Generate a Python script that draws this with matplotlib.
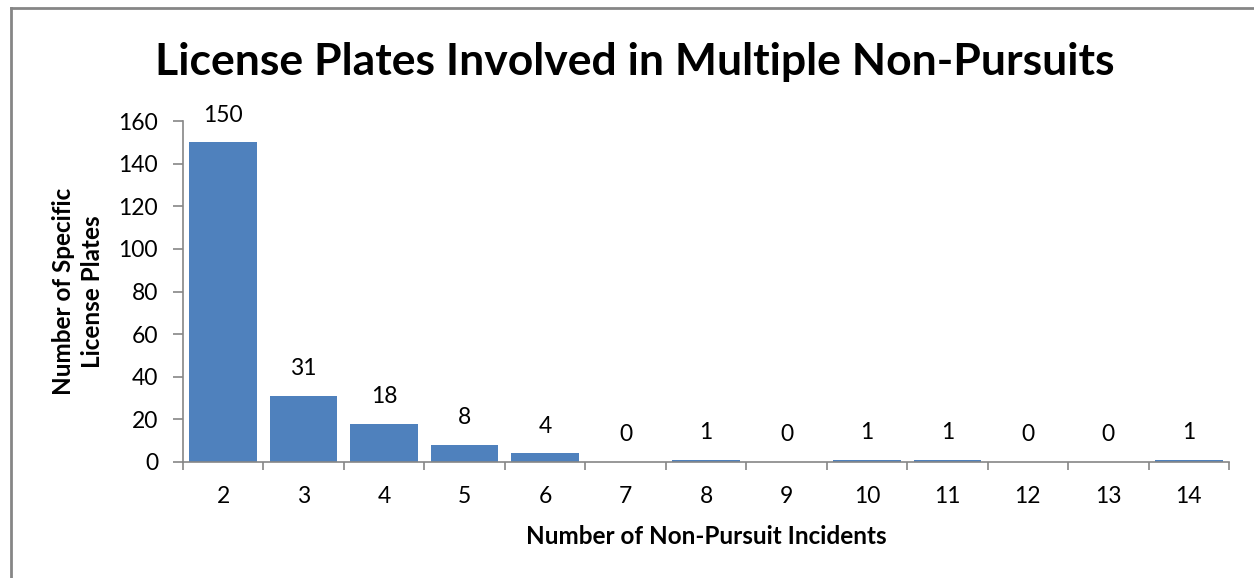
import matplotlib
matplotlib.use('Agg')
import matplotlib.pyplot as plt
from matplotlib.lines import Line2D

plt.rcParams['font.family'] = ['Lato', 'DejaVu Sans']

incidents = ['2', '3', '4', '5', '6', '7', '8', '9', '10', '11', '12', '13', '14']
plates = [150, 31, 18, 8, 4, 0, 1, 0, 1, 1, 0, 0, 1]

BLUE = '#4F81BD'
GREY = '#868686'

fig = plt.figure(figsize=(12.54, 5.78), dpi=100)
ax = fig.add_axes([183 / 1254, 1 - 462 / 578, (1229 - 183) / 1254, (462 - 121) / 578])

x = list(range(len(incidents)))
bars = ax.bar(x, plates, width=0.84, color=BLUE, zorder=2)

# value labels sit a fixed distance above each bar
for xi, v in zip(x, plates):
    ax.annotate(str(v), (xi, v), xytext=(0, 19.5), textcoords='offset points',
                ha='center', va='center', fontsize=16.5)

ax.set_xlim(-0.5, len(incidents) - 0.5)
ax.set_ylim(0, 160)
ax.set_yticks(range(0, 161, 20))
# tick marks between categories, labels centred under bars
ax.set_xticks([i - 0.5 for i in range(len(incidents) + 1)], minor=False)
ax.set_xticklabels([])
ax.set_xticks(x, minor=True)
ax.set_xticklabels(incidents, minor=True)
ax.tick_params(axis='x', which='major', length=6, width=1.2, color=GREY, direction='out')
ax.tick_params(axis='x', which='minor', length=0, pad=17, labelsize=16.5)
ax.tick_params(axis='y', length=7, width=1.2, color=GREY, direction='out', labelsize=16.5, pad=11)

for side in ['top', 'right']:
    ax.spines[side].set_visible(False)
for side in ['left', 'bottom']:
    ax.spines[side].set_color(GREY)
    ax.spines[side].set_linewidth(1.2)

ax.set_xlabel('Number of Non-Pursuit Incidents', fontsize=17.5, fontweight='bold', labelpad=13)
ax.set_ylabel('Number of Specific\nLicense Plates', fontsize=17.5, fontweight='bold', labelpad=10,
              linespacing=1.35)

fig.text(635 / 1254, 1 - 62 / 578, 'License Plates Involved in Multiple Non-Pursuits',
         ha='center', va='center', fontsize=32, fontweight='bold')

# outer chart border
fig.add_artist(Line2D([11 / 1254, 1], [1 - 8 / 578, 1 - 8 / 578], color=GREY, lw=2,
                      transform=fig.transFigure))
fig.add_artist(Line2D([11 / 1254, 11 / 1254], [0, 1 - 8 / 578], color=GREY, lw=2,
                      transform=fig.transFigure))

fig.savefig('out.png', dpi=100)
